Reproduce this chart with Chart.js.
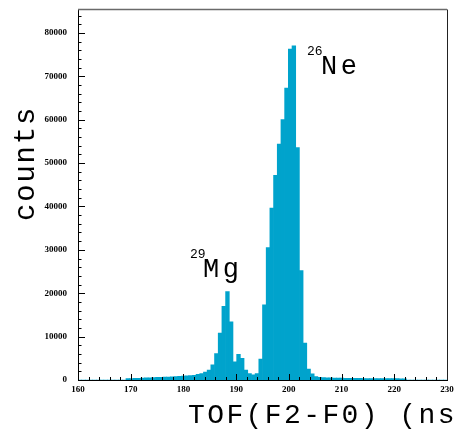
<!DOCTYPE html>
<html>
<head>
<meta charset="utf-8">
<script src="https://cdn.jsdelivr.net/npm/chart.js@4.4.1/dist/chart.umd.min.js"></script>
<style>
  html, body { margin: 0; padding: 0; background: #fff; }
  #wrap { width: 461px; height: 431px; position: relative; }
</style>
</head>
<body>
<div id="wrap"><canvas id="tof"></canvas></div>
<script>
// TOF histogram: 100 bins of 0.7 ns between 160 and 230 ns
const HIST_MIN = 160;
const HIST_MAX = 230;
const BIN_WIDTH = 0.7;

const counts = [
  0, 0, 0, 0, 0, 0, 0, 0, 0, 0, 0, 0, 0,
  300, 350, 400, 400, 450, 500, 500, 550, 600, 600, 650, 700, 750, 800, 850, 900, 950,
  1000, 1100, 1300, 1500, 1800, 2300, 3500, 6100, 10800, 17000, 20400, 13400, 4200, 5900, 5000, 2300, 1500, 1200,
  1500, 4800, 17300, 30500, 39600, 47200, 54400, 60000, 67300, 76300, 77000, 53600, 25200, 8500, 2500, 1400, 800,
  600, 550, 500, 500, 450, 450, 450, 400, 400, 400, 400, 400, 350, 350, 350, 350, 350, 300, 300, 300, 300, 300, 250, 250,
  0, 0, 0, 0, 0, 0, 0, 0, 0, 0, 0
];

const xTickLabels = [160, 170, 180, 190, 200, 210, 220, 230];
const yTickLabels = [0, 10000, 20000, 30000, 40000, 50000, 60000, 70000, 80000];
const xMinorStep = 2;
const yMinorStep = 2000;
const yMax = 85400;

const labels = [
  { sup: '29', text: 'Mg', x: 190, supY: 258, textX: 203, textY: 277 },
  { sup: '26', text: 'Ne', x: 307, supY: 55, textX: 321, textY: 74 }
];

const binCenters = counts.map((_, i) => +(HIST_MIN + BIN_WIDTH * (i + 0.5)).toFixed(2));
const points = counts.map((c, i) => ({ x: binCenters[i], y: c }));

const MONO = '"Liberation Mono", "Courier New", monospace';
const TICK_FONT = { family: '"Liberation Serif", serif', size: 9, weight: 'bold' };

// inward ticks, frame and the texts, ROOT style
const decorations = {
  id: 'decorations',
  afterDatasetsDraw(chart) {
    const { ctx, chartArea: { left, right, top, bottom }, scales: { x, y } } = chart;
    ctx.save();
    ctx.strokeStyle = '#000';
    ctx.lineWidth = 1;
    ctx.beginPath();
    for (let v = 0; v <= yMax; v += yMinorStep) {
      const py = Math.round(y.getPixelForValue(v)) + 0.5;
      const len = yTickLabels.includes(v) ? 7 : 3.5;
      ctx.moveTo(left, py);
      ctx.lineTo(left + len, py);
    }
    for (let t = HIST_MIN; t <= HIST_MAX; t += xMinorStep) {
      const px = Math.round(x.getPixelForValue(t)) + 0.5;
      const len = xTickLabels.includes(t) ? 6 : 3;
      ctx.moveTo(px, bottom);
      ctx.lineTo(px, bottom - len);
    }
    ctx.stroke();

    // frame top and right
    ctx.strokeStyle = '#6a6a6a';
    ctx.lineWidth = 1.5;
    ctx.beginPath();
    ctx.moveTo(left, top);
    ctx.lineTo(right, top);
    ctx.stroke();
    ctx.strokeStyle = '#222';
    ctx.lineWidth = 1;
    ctx.beginPath();
    ctx.moveTo(Math.round(right) + 0.5, top);
    ctx.lineTo(Math.round(right) + 0.5, bottom);
    ctx.stroke();

    ctx.fillStyle = '#000';
    ctx.textAlign = 'left';
    ctx.textBaseline = 'alphabetic';

    // peak labels
    labels.forEach(l => {
      ctx.letterSpacing = '0px';
      ctx.font = '13px ' + MONO;
      ctx.fillText(l.sup, l.x, l.supY);
      ctx.letterSpacing = '3.5px';
      ctx.font = '27px ' + MONO;
      ctx.fillText(l.text, l.textX, l.textY);
    });

    // x title
    ctx.letterSpacing = '2.4px';
    ctx.font = '28px ' + MONO;
    ctx.fillText('TOF(F2-F0) (ns)', 188, 423);

    // y title
    ctx.translate(34, 221);
    ctx.rotate(-Math.PI / 2);
    ctx.letterSpacing = '1.8px';
    ctx.font = '29px ' + MONO;
    ctx.fillText('counts', 0, 0);
    ctx.restore();
  }
};

new Chart(document.getElementById('tof'), {
  type: 'bar',
  data: {
    datasets: [{
      data: points,
      backgroundColor: '#00a3cc',
      borderWidth: 0,
      barPercentage: 1.0,
      categoryPercentage: 1.0
    }]
  },
  options: {
    responsive: true,
    maintainAspectRatio: false,
    animation: false,
    layout: { padding: { left: 0, right: 14, top: 9.5, bottom: 0 } },
    plugins: { legend: { display: false }, tooltip: { enabled: false } },
    scales: {
      x: {
        type: 'linear',
        min: HIST_MIN,
        max: HIST_MAX,
        offset: false,
        grid: { display: false, drawTicks: false },
        border: { display: true, color: '#000', width: 1 },
        ticks: { autoSkip: false, padding: 4, color: '#000', maxRotation: 0, font: TICK_FONT,
          callback: v => String(v) },
        afterBuildTicks(scale) { scale.ticks = xTickLabels.map(v => ({ value: v })); },
        afterFit(scale) { scale.height = 51; scale.paddingLeft = 0; scale.paddingRight = 0; }
      },
      y: {
        min: 0,
        max: yMax,
        grid: { display: false, drawTicks: false },
        border: { display: true, color: '#000', width: 1 },
        ticks: { autoSkip: false, padding: 11, color: '#000', font: TICK_FONT,
          callback: v => String(v) },
        afterBuildTicks(scale) { scale.ticks = yTickLabels.map(v => ({ value: v })); },
        afterFit(scale) { scale.width = 78; scale.paddingTop = 0; scale.paddingBottom = 0; }
      }
    }
  },
  plugins: [decorations]
});
</script>
</body>
</html>
